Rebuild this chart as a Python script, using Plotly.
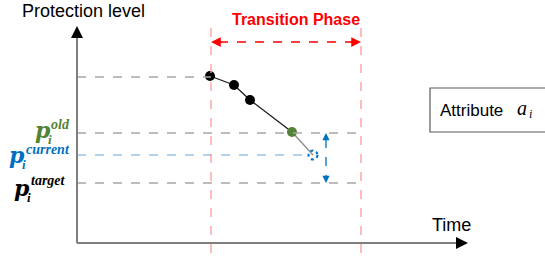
import plotly.graph_objects as go

# ---- diagram data (time, protection level) in canvas units ----
traj_time = [210, 234, 250, 292]          # past trajectory points
traj_level = [76, 85, 100, 132]
current_time = [313]
current_level = [155]
origin = (77, 243)
y_axis_top = 26
x_axis_end = 468
phase_start, phase_end = 211, 361
level_first = 77
level_old = 133
level_current = 155
level_target = 183
arrow_level = 42
gap_arrow_time = 326

GRAY = "#a6a6a6"
AXIS = "#7f7f7f"
RED_LIGHT = "#ff9999"
RED = "#ff0000"
BLUE = "#0070c0"
BLUE_LIGHT = "#9dc3e6"
GREEN = "#548235"

fig = go.Figure()
shapes = []

def hline(y, x0, x1, color, dash="dash", width=1.3):
    shapes.append(dict(type="line", x0=x0, x1=x1, y0=y, y1=y,
                       line=dict(color=color, dash=dash, width=width)))

def vline(x, y0, y1, color, dash="dash", width=1.3):
    shapes.append(dict(type="line", x0=x, x1=x, y0=y0, y1=y1,
                       line=dict(color=color, dash=dash, width=width)))

# guide lines
hline(level_first, origin[0], phase_start, GRAY)
hline(level_old, origin[0], phase_end, GRAY)
hline(level_target, origin[0], phase_end, GRAY)
hline(level_current, origin[0], current_time[0] - 4, BLUE_LIGHT)
vline(phase_start, 28, 253, RED_LIGHT)
vline(phase_end, 28, 253, RED_LIGHT)
# transition arrow shaft
hline(arrow_level, phase_start + 8, phase_end - 8, RED, dash="dash", width=1.5)
# blue gap arrow shaft
vline(gap_arrow_time, level_old + 6, level_target - 6, BLUE, dash="dash", width=1.3)
# axes (gray shafts)
shapes.append(dict(type="line", x0=origin[0], x1=origin[0], y0=origin[1], y1=y_axis_top + 8,
                   line=dict(color=AXIS, width=2)))
shapes.append(dict(type="line", x0=origin[0], x1=x_axis_end - 8, y0=origin[1], y1=origin[1],
                   line=dict(color=AXIS, width=2)))

# attribute box
shapes.append(dict(type="rect", x0=430, x1=548, y0=88, y1=132,
                   line=dict(color="#595959", width=1.2), fillcolor="white"))

# dotted predicted circle
r = 4.5
shapes.append(dict(type="circle", x0=current_time[0] - r, x1=current_time[0] + r,
                   y0=current_level[0] - r, y1=current_level[0] + r,
                   line=dict(color=BLUE, dash="dot", width=2)))

# trajectory line (black) and projection (gray)
fig.add_trace(go.Scatter(x=traj_time, y=traj_level, mode="lines",
                         line=dict(color="#1a1a1a", width=1.3), hoverinfo="skip"))
fig.add_trace(go.Scatter(x=[traj_time[-1], current_time[0]],
                         y=[traj_level[-1], current_level[0]], mode="lines",
                         line=dict(color="#8c8c8c", width=1.3), hoverinfo="skip"))
fig.add_trace(go.Scatter(x=traj_time[:-1], y=traj_level[:-1], mode="markers",
                         marker=dict(color="black", size=10), hoverinfo="skip"))
fig.add_trace(go.Scatter(x=traj_time[-1:], y=traj_level[-1:], mode="markers",
                         marker=dict(color=GREEN, size=10), hoverinfo="skip"))

ann = []

def arrow(x, y, ax, ay, color, width=1.5, size=1.0, head=2):
    ann.append(dict(x=x, y=y, ax=ax, ay=ay, xref="x", yref="y", axref="x", ayref="y",
                    showarrow=True, arrowhead=head, arrowsize=size, arrowwidth=width,
                    arrowcolor=color, text=""))

# axes arrow heads (black)
arrow(origin[0], y_axis_top, origin[0], y_axis_top + 10, "black", width=1.6, size=1.5)
arrow(x_axis_end, origin[1], x_axis_end - 10, origin[1], "black", width=1.6, size=1.5)
# red double arrow heads
arrow(phase_start, arrow_level, phase_start + 12, arrow_level, RED, width=1.5, size=1.3)
arrow(phase_end, arrow_level, phase_end - 12, arrow_level, RED, width=1.5, size=1.3)
# blue double arrow heads
arrow(gap_arrow_time, level_old, gap_arrow_time, level_old + 8, BLUE, width=1.2, size=1.2)
arrow(gap_arrow_time, level_target, gap_arrow_time, level_target - 8, BLUE, width=1.2, size=1.2)

def text(x, y, s, size, color="black", family="Liberation Sans, Arial", xanchor="center"):
    ann.append(dict(x=x, y=y, xref="x", yref="y", text=s, showarrow=False,
                    font=dict(size=size, color=color, family=family), xanchor=xanchor,
                    yanchor="middle", borderpad=0))

text(83, 11, "Protection level", 18)
text(296, 19, "<b>Transition Phase</b>", 16, color=RED)
text(451, 225, "Time", 18)
text(471, 110, "Attribute", 17)
text(522, 108, "<i>a</i>", 20, family="Liberation Serif")
text(530, 114, "<i>i</i>", 12, family="Liberation Serif")

PFONT = "DejaVu Serif"
SFONT = "Liberation Serif, DejaVu Serif"
# p_i^old
text(43, 130, "<b><i>p</i></b>", 22, GREEN, PFONT)
text(47, 139, "<b><i>i</i></b>", 13, GREEN, SFONT, xanchor="left")
text(50, 124, "<b><i>old</i></b>", 14, GREEN, SFONT, xanchor="left")
# p_i^current
text(17, 155, "<b><i>p</i></b>", 22, BLUE, PFONT)
text(21, 164, "<b><i>i</i></b>", 13, BLUE, SFONT, xanchor="left")
text(25, 149, "<b><i>current</i></b>", 14, BLUE, SFONT, xanchor="left")
# p_i^target
text(22, 188, "<b><i>p</i></b>", 22, "black", PFONT)
text(26, 197, "<b><i>i</i></b>", 13, "black", SFONT, xanchor="left")
text(30, 180, "<b><i>target</i></b>", 14, "black", SFONT, xanchor="left")

fig.update_layout(
    width=545, height=258, margin=dict(l=0, r=0, t=0, b=0),
    paper_bgcolor="white", plot_bgcolor="white", showlegend=False,
    xaxis=dict(range=[0, 545], visible=False, fixedrange=True),
    yaxis=dict(range=[258, 0], visible=False, fixedrange=True),
    shapes=shapes, annotations=ann,
)

fig.write_html("out.html", config={"displayModeBar": False},
               post_script="document.body.style.margin='0';document.body.style.overflow='hidden';")
